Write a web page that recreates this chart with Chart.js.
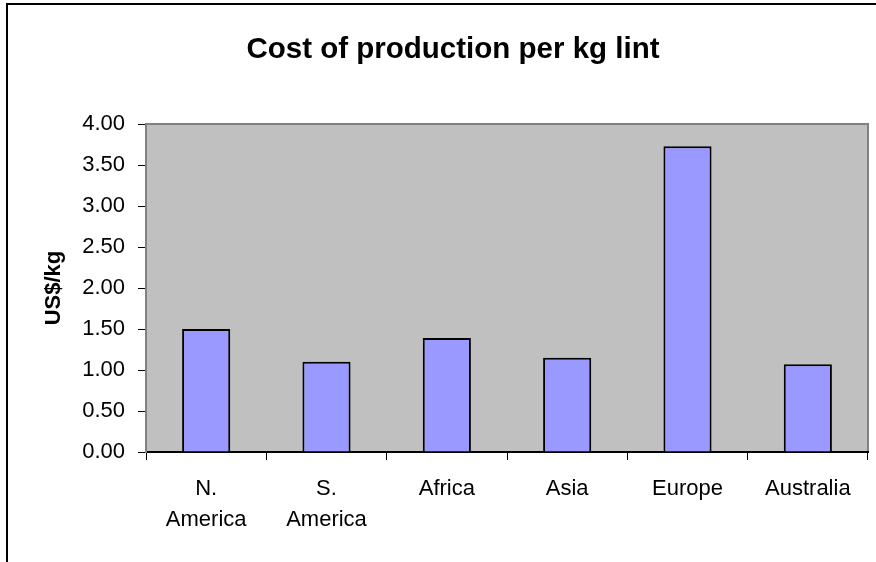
<!DOCTYPE html>
<html>
<head>
<meta charset="utf-8">
<script src="https://cdn.jsdelivr.net/npm/chart.js@4"></script>
<style>
    html, body { margin: 0; padding: 0; background: #fff; overflow: hidden; }
    #wrap { position: relative; width: 898px; height: 562px; }
</style>
</head>
<body>
<div id="wrap"><canvas id="costChart"></canvas></div>
<script>
const regions = [["N.", "America"], ["S.", "America"], "Africa", "Asia", "Europe", "Australia"];
const costPerKg = [1.50, 1.10, 1.39, 1.15, 3.73, 1.07];
const yTicks = [0, 0.5, 1, 1.5, 2, 2.5, 3, 3.5, 4];

const FONT = "'Liberation Sans', Arial, sans-serif";

// gray plot area + outer frame lines
const frame = {
    id: 'frame',
    beforeDraw(chart) {
        const { ctx, chartArea: a } = chart;
        ctx.save();
        ctx.fillStyle = '#fff';
        ctx.fillRect(0, 0, chart.width, chart.height);
        ctx.fillStyle = '#c0c0c0';
        ctx.fillRect(a.left, a.top, a.right - a.left, a.bottom - a.top);
        ctx.strokeStyle = '#808080';
        ctx.lineWidth = 2;
        ctx.strokeRect(a.left, a.top, a.right - a.left, a.bottom - a.top);
        ctx.strokeStyle = '#000';
        ctx.lineWidth = 2;
        ctx.beginPath();
        ctx.moveTo(7, chart.height);
        ctx.lineTo(7, 4);
        ctx.lineTo(chart.width, 4);
        ctx.stroke();
        ctx.restore();
    }
};

new Chart(document.getElementById('costChart'), {
    type: 'bar',
    data: {
        labels: regions,
        datasets: [{
            data: costPerKg,
            backgroundColor: '#9999ff',
            borderColor: '#000',
            borderWidth: 2,
            barPercentage: 0.4,
            categoryPercentage: 1
        }]
    },
    options: {
        responsive: true,
        maintainAspectRatio: false,
        animation: false,
        devicePixelRatio: 1,
        layout: { padding: { top: 10, left: 38, right: 30, bottom: 0 } },
        plugins: {
            legend: { display: false },
            tooltip: { enabled: false },
            title: {
                display: true,
                text: 'Cost of production per kg lint',
                color: '#000',
                font: { family: FONT, size: 29.5, weight: 'bold' },
                padding: { top: 22, bottom: 56.6 }
            }
        },
        scales: {
            x: {
                grid: {
                    offset: true,
                    drawOnChartArea: false,
                    drawTicks: true,
                    tickLength: 8,
                    color: '#000'
                },
                border: { color: '#000', width: 2 },
                ticks: {
                    color: '#000',
                    font: { family: FONT, size: 22, lineHeight: 1.4 },
                    padding: 14,
                    maxRotation: 0,
                    autoSkip: false
                },
                afterFit(scale) { scale.height = 110; }
            },
            y: {
                min: 0,
                max: 4,
                afterBuildTicks(scale) { scale.ticks = yTicks.map(v => ({ value: v })); },
                grid: {
                    drawOnChartArea: false,
                    drawTicks: true,
                    tickLength: 8,
                    color: '#000'
                },
                border: { color: '#808080', width: 2 },
                ticks: {
                    color: '#000',
                    font: { family: FONT, size: 22 },
                    padding: 13,
                    callback: v => Number(v).toFixed(2)
                },
                title: {
                    display: true,
                    text: 'US$/kg',
                    color: '#000',
                    font: { family: FONT, size: 22, weight: 'bold' },
                    padding: { top: 3, bottom: 0 }
                },
                afterFit(scale) { scale.width = 108; }
            }
        }
    },
    plugins: [frame]
});
</script>
</body>
</html>
